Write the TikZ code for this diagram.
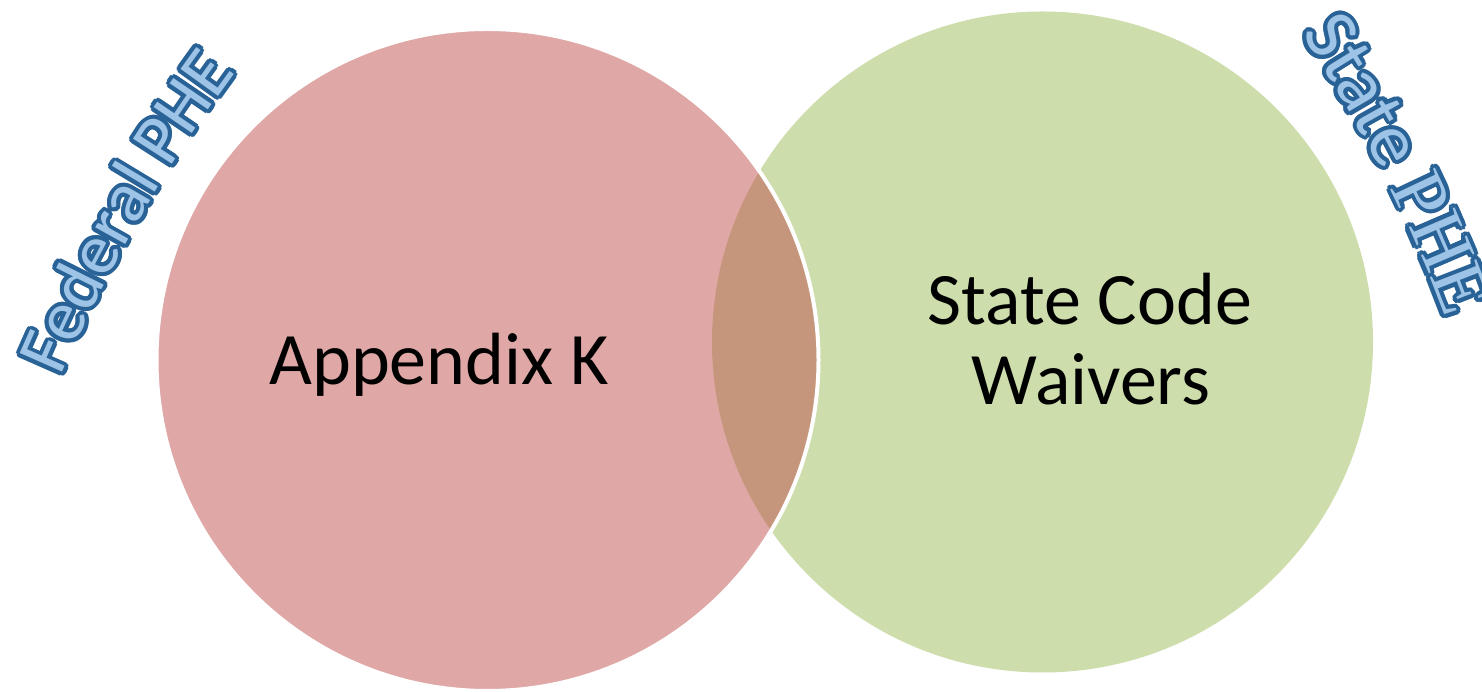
\documentclass[tikz,border=0pt]{standalone}
\usepackage{fontspec}
\setmainfont{Carlito}
\newfontfamily\serfont{Liberation Serif}
\usetikzlibrary{decorations.text}
\definecolor{vred}{RGB}{192,80,77}
\definecolor{vgreen}{RGB}{155,187,89}
\definecolor{wdark}{RGB}{40,98,150}
\definecolor{wlight}{RGB}{157,195,230}
\newcommand\fedsans{\fontsize{72}{72}\selectfont}
\newcommand\labsans{\fontsize{76}{76}\selectfont}
\newcommand\labserif{\fontsize{76}{76}\selectfont\serfont}
\newcommand\fedtext{|\fedsans|Federal PHE}
\newcommand\statetext{|\labsans|State |\labserif|PHE}
\begin{document}
\begin{tikzpicture}[x=1pt,y=1pt,
  venn/.style={circle, inner sep=0pt, outer sep=0pt},
  bigtext/.style={font=\fontsize{74}{80}\selectfont, text=black, inner sep=0pt, anchor=base},
  fedarc/.style={decorate, decoration={text along path, text align=left, text color=#1, text/.expand once=\fedtext}},
  statearc/.style={decorate, decoration={text along path, text align=left, text color=#1, text/.expand once=\statetext}}
]
\useasboundingbox (0,0) rectangle (1482,692);
\clip (0,0) rectangle (1482,692);
\node[venn, minimum size=661pt, fill=vgreen, fill opacity=0.5] (green) at (1042.5,350) {};
\node[venn, minimum size=662pt, fill=vred, fill opacity=0.5, draw=white, line width=4pt] (red) at (487.5,332) {};
\node[bigtext] (appk) at (439,307) {Appendix K};
\node[bigtext] (scw1) at (1090,367) {State Code};
\node[bigtext] (scw2) at (1091,287) {Waivers};
% outlined, arched labels
\foreach \a in {0,20,...,340}{
  \path[fedarc=wdark, shift={(\a:4)}] (61,315) arc[start angle=156.8, delta angle=-25, radius=1528];
  \path[statearc=wdark, shift={(\a:4)}] (1301,658) arc[start angle=33.8, delta angle=-25, radius=1347];
}
\path[fedarc=wlight] (61,315) arc[start angle=156.8, delta angle=-25, radius=1528];
\path[statearc=wlight] (1301,658) arc[start angle=33.8, delta angle=-25, radius=1347];
\end{tikzpicture}
\end{document}
